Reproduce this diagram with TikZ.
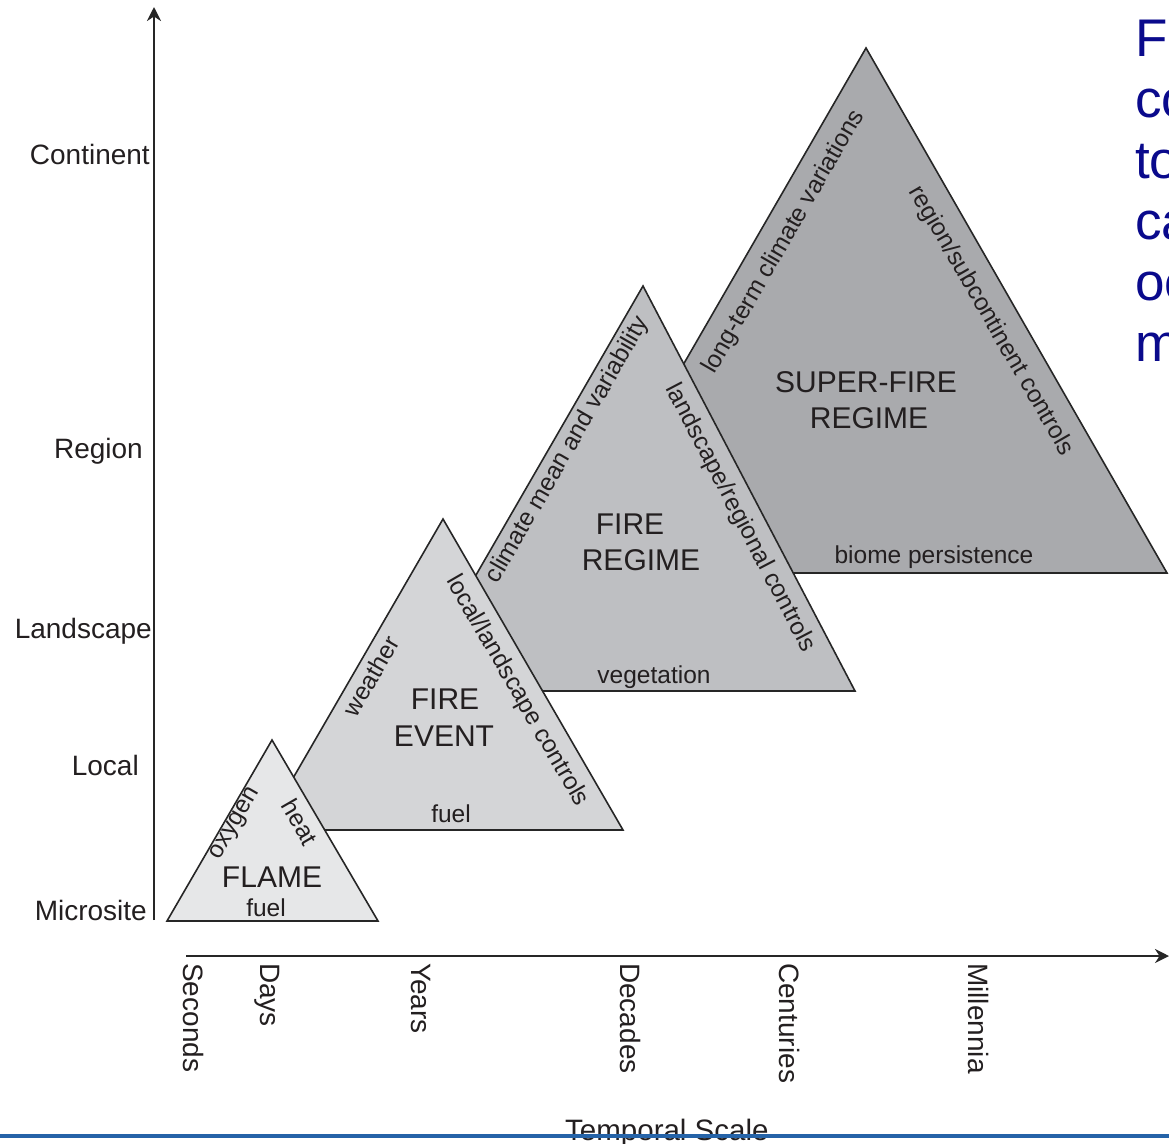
\documentclass[tikz,border=0pt]{standalone}
\usepackage{fontspec}
\setmainfont{Liberation Sans}
\usetikzlibrary{arrows.meta}
\definecolor{edgec}{HTML}{262626}
\definecolor{txtc}{HTML}{231F20}
\definecolor{flamec}{HTML}{E6E7E8}
\definecolor{eventc}{HTML}{D4D5D7}
\definecolor{regimec}{HTML}{BEBFC2}
\definecolor{superc}{HTML}{A9AAAD}
\definecolor{navyc}{HTML}{0A0A8C}
\definecolor{barc}{HTML}{2563A8}
\begin{document}
\begin{tikzpicture}[x=1pt,y=-1pt,
  tri/.style={draw=edgec, line width=1.6pt, line join=miter},
  axisline/.style={draw=edgec, line width=2.6pt, -{Stealth[length=14pt,width=14pt]}},
  lbl/.style={inner sep=0pt, text=txtc},
  axlbl/.style={lbl, font=\fontsize{28}{34}\selectfont},
  big/.style={lbl, font=\fontsize{30}{36}\selectfont, anchor=base},
  small/.style={lbl, font=\fontsize{24.5}{30}\selectfont},
  bluet/.style={inner sep=0pt, text=navyc, font=\fontsize{53}{61}\selectfont, anchor=base west}
]
\useasboundingbox (0,0) rectangle (1169,1143);
\clip (0,0) rectangle (1169,1143);

% triangles (back to front)
\coordinate (SA) at (866,48);  \coordinate (SL) at (563,573); \coordinate (SR) at (1167,573);
\coordinate (RA) at (643,286); \coordinate (RL) at (409,691); \coordinate (RR) at (855,691);
\coordinate (EA) at (443,519); \coordinate (EL) at (263,830); \coordinate (ER) at (623,830);
\coordinate (FA) at (272,740); \coordinate (FL) at (167,921); \coordinate (FR) at (378,921);

\filldraw[tri, fill=superc]  (SA) -- (SR) -- (SL) -- cycle;
\filldraw[tri, fill=regimec] (RA) -- (RR) -- (RL) -- cycle;
\filldraw[tri, fill=eventc]  (EA) -- (ER) -- (EL) -- cycle;
\filldraw[tri, fill=flamec]  (FA) -- (FR) -- (FL) -- cycle;

% axes
\coordinate (vb) at (154,920); \coordinate (vt) at (154,7);
\draw[axisline] (vb) -- (vt);
\coordinate (hb) at (186,956); \coordinate (ht) at (1169,956);
\draw[axisline] (hb) -- (ht);

% spatial scale labels
\node[axlbl, anchor=base east] (lcont) at (150,164) {Continent};
\node[axlbl, anchor=base east] (lreg)  at (143,458) {Region};
\node[axlbl, anchor=base east] (lland) at (152,638) {Landscape};
\node[axlbl, anchor=base east] (lloc)  at (139,775) {Local};
\node[axlbl, anchor=base east] (lmic)  at (147,920) {Microsite};

% temporal scale labels
\node[axlbl, rotate=-90, anchor=base west] (tsec) at (183,963) {Seconds};
\node[axlbl, rotate=-90, anchor=base west] (tday) at (260,963) {Days};
\node[axlbl, rotate=-90, anchor=base west] (tyr)  at (411,963) {Years};
\node[axlbl, rotate=-90, anchor=base west] (tdec) at (620,963) {Decades};
\node[axlbl, rotate=-90, anchor=base west] (tcen) at (779,963) {Centuries};
\node[axlbl, rotate=-90, anchor=base west] (tmil) at (968,963) {Millennia};

% flame
\node[small, rotate=60]  (oxy)  at (236,824) {oxygen};
\node[small, rotate=-60] (heat) at (300,822) {heat};
\node[big] (flame) at (272,887) {FLAME};
\node[small, anchor=base] (ffuel) at (266,916) {fuel};

% fire event
\node[small, rotate=60]  (weat) at (371,676) {weather};
\node[small, rotate=-60] (llc)  at (517,691) {local/landscape controls};
\node[big] (fe1) at (445,709) {FIRE};
\node[big] (fe2) at (444,746) {EVENT};
\node[small, anchor=base] (efuel) at (451,822) {fuel};

% fire regime
\node[small, rotate=60]    (cmv) at (568,450) {climate mean and variability};
\node[small, rotate=-62.4] (lrc) at (740,518) {landscape/regional controls};
\node[big] (fr1) at (630,534) {FIRE};
\node[big] (fr2) at (641,570) {REGIME};
\node[small, anchor=base] (veg) at (654,683) {vegetation};

% super-fire regime
\node[small, rotate=60]  (ltc) at (784,242) {long-term climate variations};
\node[small, rotate=-60] (rsc) at (991,321) {region/subcontinent controls};
\node[big] (sf1) at (866,392) {SUPER-FIRE};
\node[big] (sf2) at (869,428) {REGIME};
\node[small, anchor=base] (bio) at (934,563) {biome persistence};

% axis title and slide bar
\node[lbl, font=\fontsize{29.5}{35}\selectfont, anchor=base west] (ttl) at (565,1140) {Temporal Scale};
\coordinate (bl) at (0,1135.5); \coordinate (br) at (1169,1135.5);
\draw[barc, line width=4pt] (bl) -- (br);

% clipped slide text
\foreach \t [count=\i from 0] in {F,co,to,ca,oc,m}
  \node[bluet] (b\i) at (1135,{56+61*\i}) {\t};
\end{tikzpicture}
\end{document}
